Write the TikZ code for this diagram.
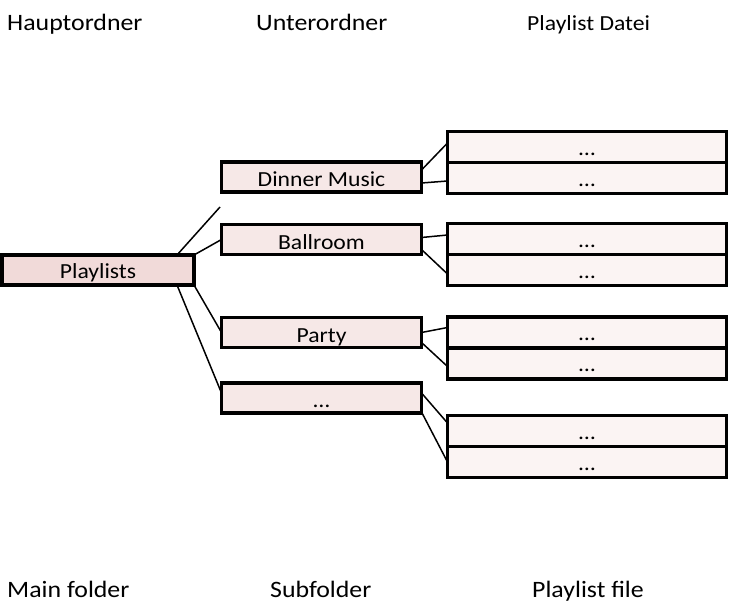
\documentclass[tikz,border=0pt]{standalone}
\usepackage{fontspec}
\setmainfont{Carlito}[FakeStretch=1.1]
\usetikzlibrary{positioning}
\definecolor{mainpink}{RGB}{241,218,217}
\definecolor{subpink}{RGB}{246,232,231}
\definecolor{filepink}{RGB}{251,244,243}
\tikzset{
	folder/.style={draw, line width=3.3pt, inner sep=0pt, outer sep=0pt, minimum height=30pt,
		font=\fontsize{21.5}{24}\selectfont, text height=17pt, text depth=0pt},
	subbox/.style={folder, fill=subpink, minimum width=200pt, text height=19pt},
	filebox/.style={folder, fill=filepink, minimum width=279pt, minimum height=31pt, text height=16pt},
	link/.style={line width=1.5pt},
	heading/.style={anchor=base west, inner sep=0pt, font=\fontsize{23.5}{26}\selectfont}
}
\begin{document}
\begin{tikzpicture}[x=1pt, y=-1pt]
	\useasboundingbox (0,0) rectangle (733,607);
	%headings
	\node[heading] (hmain) at (7,31) {Hauptordner};
	\node[heading] (hsub) at (256,31) {Unterordner};
	\node[heading, font=\fontsize{21.5}{24}\selectfont] (hfile) at (527,31) {Playlist Datei};
	\node[heading] (fmain) at (7,597) {Main folder};
	\node[heading] (fsub) at (270,597) {Subfolder};
	\node[heading] (ffile) at (532,597) {Playlist file};
	%folders
	\node[folder, fill=mainpink, minimum width=192pt] (playlists) at (98,270) {Playlists};
	\node[subbox] (dinner) at (321.5,177) {Dinner Music};
	\node[subbox] (ballroom) at (321.5,239.5) {Ballroom};
	\node[subbox] (party) at (321.5,332.5) {Party};
	\node[subbox] (more) at (321.5,398) {\dots};
	%files
	\foreach \i/\y in {1/147, 2/239, 3/332.5, 4/431}{
		\node[filebox] (file\i a) at (587,\y) {\dots};
		\node[filebox, below=0pt of file\i a] (file\i b) {\dots};
	}
	%links
	\coordinate (gap) at (220,207);
	\draw[link] ([xshift=-17pt]playlists.north east) -- (gap);
	\draw[link] (playlists.north east) -- (ballroom.west);
	\draw[link] (playlists.south east) -- (party.west);
	\draw[link] ([xshift=-17pt]playlists.south east) -- ([yshift=5pt]more.west);
	\draw[link] ([yshift=7pt]dinner.east) -- ([yshift=4pt]file1a.west);
	\draw[link] ([yshift=-6pt]dinner.east) -- ([yshift=-3pt]file1b.west);
	\draw[link] ([yshift=2pt]ballroom.east) -- ([yshift=4pt]file2a.west);
	\draw[link] ([yshift=-10pt]ballroom.east) -- ([yshift=-4pt]file2b.west);
	\draw[link] (party.east) -- ([yshift=5pt]file3a.west);
	\draw[link] ([yshift=-10pt]party.east) -- ([yshift=-3pt]file3b.west);
	\draw[link] ([yshift=5pt]more.east) -- ([yshift=8pt]file4a.west);
	\draw[link] ([yshift=-14pt]more.east) -- (file4b.west);
\end{tikzpicture}
\end{document}
